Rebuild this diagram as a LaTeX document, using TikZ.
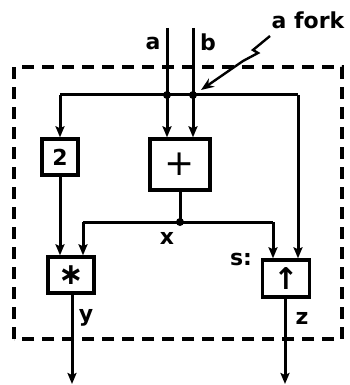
\documentclass[tikz,border=0pt]{standalone}
\usepackage{fontspec}
\setmainfont{DejaVu Sans}
\usetikzlibrary{arrows.meta}
\tikzset{
  opbox/.style={draw, line width=3.4pt, inner sep=0pt, font=\bfseries\fontsize{22}{24}\selectfont},
  wire/.style={line width=3pt},
  flow/.style={wire, -{Stealth[length=11pt,width=9pt,inset=2pt]}},
  lbl/.style={font=\bfseries\fontsize{22}{24}\selectfont, inner sep=0pt},
  fork/.style={circle, fill, inner sep=0pt, minimum size=8pt},
  frame/.style={line width=3.2pt, dash pattern=on 12pt off 8pt}
}
\begin{document}
\begin{tikzpicture}[x=1pt,y=-1pt]
\useasboundingbox (0,0) rectangle (350,385);
% frame
\draw[frame] (14,339) -- (14,67) -- (342,67) -- (342,339) -- cycle;
% boxes
\node[opbox, minimum width=36pt, minimum height=36pt] (two) at (60,157) {2};
\node[opbox, minimum width=60pt, minimum height=51pt, font=\fontsize{36}{36}\selectfont] (plus) at (180,164.5) {+};
\node[opbox, minimum width=46pt, minimum height=36pt, font=\bfseries\fontsize{30}{30}\selectfont] (star) at (71,275) {∗};
\node[opbox, minimum width=47pt, minimum height=37pt, font=\bfseries\fontsize{30}{30}\selectfont] (sbox) at (286,278.5) {↑};
% coordinates
\coordinate (ta) at (167,28);
\coordinate (tb) at (193,28);
\coordinate (fa) at (167,95);
\coordinate (fb) at (193,95);
\coordinate (fl) at (60,95);
\coordinate (fr) at (298,95);
\coordinate (xd) at (180,222);
\coordinate (xl) at (83,222);
\coordinate (xr) at (273,222);
\coordinate (oy) at (72,384);
\coordinate (oz) at (285,384);
% inputs
\draw[wire] (ta) -- (fa);
\draw[wire] (tb) -- (fb);
\draw[wire] (fl) -- (fr);
\node[fork] (da) at (fa) {};
\node[fork] (db) at (fb) {};
\draw[flow] (fa) -- (fa |- plus.north);
\draw[flow] (fb) -- (fb |- plus.north);
\draw[flow] (fl) -- (two.north);
\draw[flow] (fr) -- (fr |- sbox.north);
\draw[flow] (two.south) -- (two.south |- star.north);
% x
\draw[wire] (plus.south) -- (xd);
\node[fork] (dx) at (xd) {};
\draw[wire] (xl) -- (xr);
\draw[flow] (xl) -- (xl |- star.north);
\draw[flow] (xr) -- (xr |- sbox.north);
% outputs
\draw[flow] (star.south -| oy) -- (oy);
\draw[flow] (sbox.south -| oz) -- (oz);
% labels
\node[lbl] (la) at (153,43) {a};
\node[lbl] (lb) at (208,42) {b};
\node[lbl] (lx) at (167,238) {x};
\node[lbl] (ly) at (86,318) {y};
\node[lbl] (lz) at (302,318) {z};
\node[lbl] (ls) at (241,259) {s:};
\node[lbl] (lf) at (308,20) {a fork};
% lightning arrow
\coordinate (lt) at (270,36);
\coordinate (lh) at (201,90);
\draw[line width=2.4pt, -{Stealth[length=13pt,width=10pt]}] (lt) -- (253,50) -- (258,53) -- (243,61) -- (lh);
\end{tikzpicture}
\end{document}
